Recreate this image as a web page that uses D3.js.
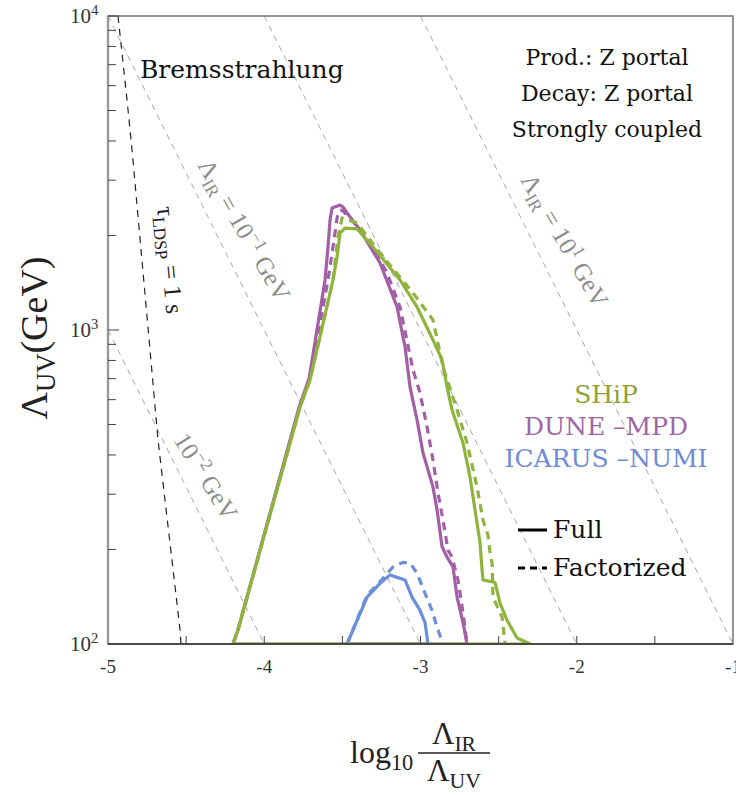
<!DOCTYPE html>
<html>
<head>
<meta charset="utf-8">
<script src="https://cdn.jsdelivr.net/npm/d3@7/dist/d3.min.js"></script>
<style>
  body { margin: 0; background: #fff; }
  text { white-space: pre; }
</style>
</head>
<body>
<svg id="chart" width="736" height="795"></svg>
<script>
// ---- axis ticks ----
const xMajorTicks = [-5, -4, -3, -2, -1];
const xMinorTicks = [-4.5, -3.5, -2.5, -1.5];
const yMajorTicks = [100, 1000, 10000];
const yTickExponents = ["2", "3", "4"];

// ---- reference lines: log10(Λ_IR / GeV) ----
const irLevels = [-2, -1, 0, 1];

// ---- τ_LDSP = 1 s contour ----
const tauX = [-4.936, -4.878, -4.846, -4.731, -4.680, -4.539, -4.533];
const tauY = [10000, 5395, 3741, 863, 447, 111, 100];

// ---- SHiP ----
const shipFullX = [-4.200, -4.168, -3.771, -3.707, -3.560, -3.534, -3.515, -3.483, -3.406, -3.304, -3.131, -3.022, -2.920, -2.862, -2.830, -2.798, -2.728, -2.683, -2.651, -2.619, -2.606, -2.600, -2.523, -2.491, -2.446, -2.382, -2.299];
const shipFullY = [100, 111, 568, 693, 1443, 1708, 2036, 2112, 2098, 1838, 1443, 1184, 929, 803, 658, 556, 437, 340, 267, 210, 172, 160, 157, 135, 119, 104.5, 100];
const shipFactX = [-4.200, -4.168, -3.771, -3.707, -3.560, -3.528, -3.502, -3.406, -3.259, -3.048, -2.920, -2.856, -2.766, -2.702, -2.638, -2.600, -2.568, -2.555, -2.542, -2.536, -2.478, -2.459];
const shipFactY = [100, 111, 568, 693, 1443, 1978, 2274, 2192, 1759, 1312, 1076, 763, 556, 437, 316, 248, 222, 195, 181, 141, 122, 100];

// ---- DUNE-MPD ----
const duneFullX = [-4.200, -4.168, -3.774, -3.713, -3.611, -3.592, -3.579, -3.566, -3.515, -3.496, -3.470, -3.387, -3.259, -3.150, -3.099, -3.067, -3.022, -2.984, -2.920, -2.894, -2.862, -2.830, -2.792, -2.766, -2.728, -2.702];
const duneFullY = [100, 111, 575, 700, 1443, 1838, 2240, 2446, 2500, 2465, 2359, 2081, 1635, 1184, 883, 658, 517, 406, 316, 267, 204, 189, 176, 141, 117, 100];
const duneFactX = [-4.200, -4.168, -3.772, -3.710, -3.592, -3.560, -3.528, -3.502, -3.342, -3.214, -3.131, -3.048, -3.003, -2.958, -2.920, -2.888, -2.856, -2.824, -2.798, -2.760, -2.728, -2.702];
const duneFactY = [100, 111, 572, 697, 1443, 1838, 2376, 2411, 1978, 1519, 1184, 746, 630, 491, 385, 303, 248, 199, 189, 160, 126, 100];

// ---- ICARUS-NUMI ----
const icarusFullX = [-3.470, -3.342, -3.259, -3.195, -3.150, -3.099, -3.054, -3.003, -2.971, -2.952];
const icarusFullY = [100, 141, 156, 166, 163, 160, 141, 128, 117, 100];
const icarusFactX = [-3.470, -3.342, -3.259, -3.176, -3.112, -3.067, -3.022, -2.971, -2.926, -2.894, -2.856];
const icarusFactY = [100, 143, 158, 176, 182, 181, 168, 145, 128, 113, 100];

const experiments = ["SHiP", "DUNE \u2013MPD", "ICARUS \u2013NUMI"];
const colors = { ship: "#8fb43d", dune: "#a25fa8", icarus: "#6b8fd9" };
const labelColors = ["#8ea234", "#a064a6", "#6e8cd4"];

// ---- layout ----
const svg = d3.select("#chart");
const plot = { left: 108, right: 733, top: 16, bottom: 644 };
const x = d3.scaleLinear().domain([-5, -1]).range([plot.left, plot.right]);
const y = d3.scaleLog().domain([100, 10000]).range([plot.bottom, plot.top]);

const serif = "'DejaVu Serif', serif";
const math = "'Liberation Serif', 'Times New Roman', serif";

svg.append("defs").append("clipPath").attr("id", "plotClip")
  .append("rect").attr("x", plot.left).attr("y", plot.top)
  .attr("width", plot.right - plot.left).attr("height", plot.bottom - plot.top);

// text with sub/superscript parts
function rich(sel, parts, size) {
  let shift = 0;
  parts.forEach(p => {
    const target = p.sub ? size * 0.22 : p.sup ? -size * 0.38 : 0;
    sel.append("tspan")
      .attr("dy", target - shift)
      .attr("font-size", (p.sub || p.sup) ? size * 0.7 : size)
      .text(p.t);
    shift = target;
  });
  return sel;
}

const zip = (xs, ys) => xs.map((v, i) => [v, ys[i]]);
const line = d3.line().x(d => x(d[0])).y(d => y(d[1]));

const g = svg.append("g").attr("clip-path", "url(#plotClip)");

// Λ_IR = const lines: log10 Λ_UV = logIR - log10(Λ_IR/Λ_UV)
irLevels.forEach(l => {
  const x0 = Math.max(-5, l - 4), x1 = Math.min(-1, l - 2);
  g.append("path")
    .attr("d", line([[x0, Math.pow(10, l - x0)], [x1, Math.pow(10, l - x1)]]))
    .attr("fill", "none").attr("stroke", "#a8a8a8").attr("stroke-width", 1)
    .attr("stroke-dasharray", "6,5");
});

// lifetime contour
g.append("path").attr("d", line(zip(tauX, tauY)))
  .attr("fill", "none").attr("stroke", "#222").attr("stroke-width", 1.2)
  .attr("stroke-dasharray", "7,6");

// sensitivity curves
function drawCurve(xs, ys, color, dashed) {
  const pts = zip(xs, ys);
  g.append("path")
    .attr("d", line(pts) + (dashed ? "" : "Z"))
    .attr("fill", "none").attr("stroke", color)
    .attr("stroke-width", 3.2)
    .attr("stroke-linejoin", "round")
    .attr("stroke-dasharray", dashed ? "8,6" : null);
}
drawCurve(icarusFactX, icarusFactY, colors.icarus, true);
drawCurve(icarusFullX, icarusFullY, colors.icarus, false);
drawCurve(duneFactX, duneFactY, colors.dune, true);
drawCurve(duneFullX, duneFullY, colors.dune, false);
drawCurve(shipFactX, shipFactY, colors.ship, true);
drawCurve(shipFullX, shipFullY, colors.ship, false);

// ---- frame ----
svg.append("rect").attr("x", plot.left).attr("y", plot.top)
  .attr("width", plot.right - plot.left).attr("height", plot.bottom - plot.top)
  .attr("fill", "none").attr("stroke", "#666").attr("stroke-width", 1.4);
svg.append("line").attr("x1", plot.left).attr("x2", plot.left)
  .attr("y1", plot.top).attr("y2", plot.bottom)
  .attr("stroke", "#999").attr("stroke-width", 2.4);
svg.append("line").attr("x1", plot.left).attr("x2", plot.right)
  .attr("y1", plot.bottom).attr("y2", plot.bottom)
  .attr("stroke", "#333").attr("stroke-width", 1.5);

// ---- y ticks (inward) ----
const yMinor = [];
[100, 1000].forEach(d => { for (let k = 2; k <= 9; k++) yMinor.push(d * k); });
svg.selectAll(".ymin").data(yMinor).join("line")
  .attr("x1", plot.left).attr("x2", plot.left + 8)
  .attr("y1", d => y(d)).attr("y2", d => y(d))
  .attr("stroke", "#444").attr("stroke-width", 1);
svg.selectAll(".ymaj").data(yMajorTicks).join("line")
  .attr("x1", plot.left).attr("x2", plot.left + 11)
  .attr("y1", d => y(d)).attr("y2", d => y(d))
  .attr("stroke", "#444").attr("stroke-width", 1);
yMajorTicks.forEach((d, i) => {
  const t = svg.append("text").attr("x", 70).attr("y", y(d) + 7)
    .attr("font-family", math).attr("fill", "#333");
  rich(t, [{ t: "10" }, { t: yTickExponents[i], sup: true }], 21);
});

// ---- x ticks (inward) ----
svg.selectAll(".xt").data(xMajorTicks.slice(1, -1).concat(xMinorTicks)).join("line")
  .attr("x1", d => x(d)).attr("x2", d => x(d))
  .attr("y1", plot.bottom).attr("y2", plot.bottom - 8)
  .attr("stroke", "#444").attr("stroke-width", 1);
svg.selectAll(".xl").data(xMajorTicks).join("text")
  .attr("x", d => x(d)).attr("y", 673)
  .attr("text-anchor", "middle").attr("font-family", math)
  .attr("font-size", 19).attr("fill", "#333")
  .text(d => String(d));

// ---- axis titles ----
const yt = svg.append("text").attr("transform", "translate(47,338) rotate(-90)")
  .attr("text-anchor", "middle").attr("font-family", math).attr("fill", "#222");
rich(yt, [{ t: "\u039B" }, { t: "UV", sub: true }, { t: "(GeV)" }], 38);

const xt = svg.append("text").attr("x", 350).attr("y", 763)
  .attr("font-family", math).attr("fill", "#222");
rich(xt, [{ t: "log" }, { t: "10", sub: true }], 32);
svg.append("line").attr("x1", 418).attr("x2", 490).attr("y1", 753).attr("y2", 753)
  .attr("stroke", "#222").attr("stroke-width", 1.3);
const num = svg.append("text").attr("x", 454).attr("y", 744).attr("text-anchor", "middle")
  .attr("font-family", math).attr("fill", "#222");
rich(num, [{ t: "\u039B" }, { t: "IR", sub: true }], 31);
const den = svg.append("text").attr("x", 454).attr("y", 781).attr("text-anchor", "middle")
  .attr("font-family", math).attr("fill", "#222");
rich(den, [{ t: "\u039B" }, { t: "UV", sub: true }], 31);

// ---- line annotations ----
function rotLabel(px, py, angle, parts, color) {
  const t = svg.append("text")
    .attr("transform", `translate(${px},${py}) rotate(${angle})`)
    .attr("font-family", math).attr("fill", color);
  rich(t, parts, 25);
}
rotLabel(x(-4.43), y(3350), 60,
  [{ t: "\u039B" }, { t: "IR", sub: true }, { t: " = 10" }, { t: "\u22121", sup: true }, { t: " GeV" }], "#8c8c8c");
rotLabel(x(-4.584), y(447), 58,
  [{ t: "10" }, { t: "\u22122", sup: true }, { t: " GeV" }], "#8c8c8c");
rotLabel(x(-2.363), y(3006), 60,
  [{ t: "\u039B" }, { t: "IR", sub: true }, { t: " = 10" }, { t: "1", sup: true }, { t: " GeV" }], "#8c8c8c");
rotLabel(x(-4.686), y(2466), 85,
  [{ t: "\u03C4" }, { t: "LDSP", sub: true }, { t: " = 1 s" }], "#222");

// ---- in-plot text ----
svg.append("text").attr("x", 140).attr("y", 78)
  .attr("font-family", serif).attr("font-size", 25).attr("fill", "#111")
  .text("Bremsstrahlung");
["Prod.: Z portal", "Decay: Z portal", "Strongly coupled"].forEach((s, i) => {
  svg.append("text").attr("x", 607).attr("y", 65 + i * 36)
    .attr("text-anchor", "middle").attr("font-family", serif)
    .attr("font-size", 22).attr("fill", "#111").text(s);
});

// ---- legend ----
experiments.forEach((s, i) => {
  svg.append("text").attr("x", 606).attr("y", 403 + i * 32)
    .attr("text-anchor", "middle").attr("font-family", serif)
    .attr("font-size", 25).attr("fill", labelColors[i]).text(s);
});
[["Full", null, 530], ["Factorized", "7,5", 568]].forEach(([s, dash, yy]) => {
  svg.append("line").attr("x1", 518).attr("x2", 547).attr("y1", yy).attr("y2", yy)
    .attr("stroke", "#000").attr("stroke-width", 3).attr("stroke-dasharray", dash);
  svg.append("text").attr("x", 553).attr("y", yy + 8)
    .attr("font-family", serif).attr("font-size", 25).attr("fill", "#111").text(s);
});
</script>
</body>
</html>
